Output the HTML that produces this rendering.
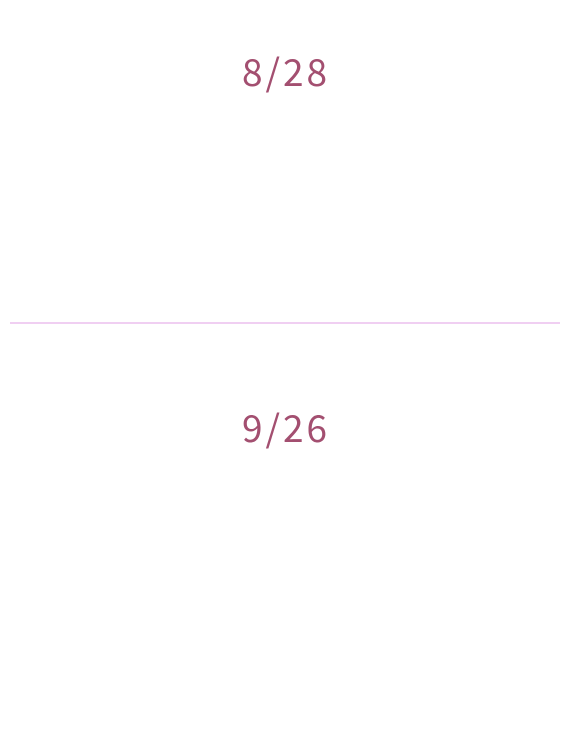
<!DOCTYPE html>
<html>
<head>
<meta charset="utf-8">
<style>
html,body{margin:0;padding:0;background:#fff;width:570px;height:742px;overflow:hidden}
.d{position:absolute;left:1px;width:570px;text-align:center;font-family:"Noto Sans CJK JP","Liberation Sans",sans-serif;font-size:37px;letter-spacing:3px;color:#a34f70;line-height:52px;white-space:nowrap}
.r{position:absolute;left:10px;top:322px;width:550px;height:2px;background:#f0cff2}
</style>
</head>
<body>
<div class="d" style="top:44px">8/28</div>
<div class="r"></div>
<div class="d" style="top:400px">9/26</div>
</body>
</html>
